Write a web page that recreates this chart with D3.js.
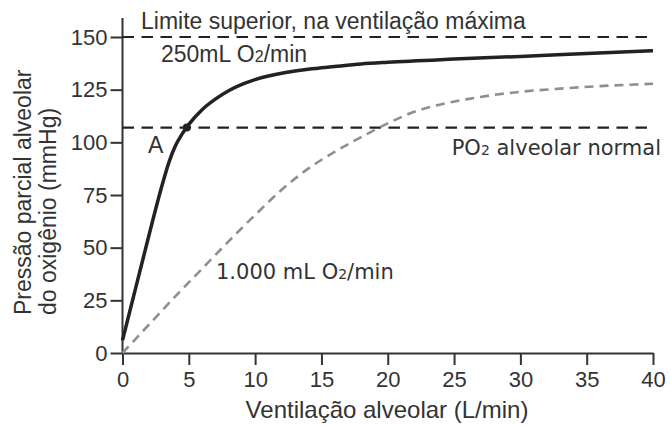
<!DOCTYPE html>
<html>
<head>
<meta charset="utf-8">
<script src="https://cdn.jsdelivr.net/npm/d3@7"></script>
<style>
  body { margin: 0; background: #fff; }
  text { font-family: "Liberation Sans", Arial, sans-serif; fill: #333; }
</style>
</head>
<body>
<div id="chart"></div>
<script>
// values
const xTicks = [0, 5, 10, 15, 20, 25, 30, 35, 40];
const yTicks = [0, 25, 50, 75, 100, 125, 150];

// 250 mL O2/min curve (solid)
const x250 = [0, 1, 2, 3, 3.5, 4, 4.5, 5, 6, 7, 8, 9, 10, 11, 12, 14, 16, 18, 20, 25, 30, 35, 40];
const y250 = [6, 31, 56, 80, 90.5, 98.5, 104, 108.5, 115.5, 120.5, 124.5, 127.5, 129.8, 131.5, 132.8, 134.7, 136, 137.2, 138, 139.5, 140.8, 142.2, 143.5];

// 1.000 mL O2/min curve (dashed grey)
const x1000 = [0, 2, 4, 6, 8, 10, 12, 14, 16, 18, 20, 22, 24, 26, 28, 30, 33, 36, 40];
const y1000 = [0, 13.5, 27, 40, 53, 65.5, 77.5, 87.5, 95.5, 102.5, 109, 114.5, 118, 120.5, 122.5, 124, 125.5, 126.7, 127.8];

const refLines = [150, 107];   // limite superior, PO2 alveolar normal
const pointA = { x: 4.85, y: 107 };

const config_size = {
  svg_width: 671,
  svg_height: 426,
  plot_margin: { left: 122.5, right: 18, top: 37, bottom: 73 },
};

const svg = d3.select('#chart').append('svg')
  .attr('width', config_size.svg_width)
  .attr('height', config_size.svg_height);

const plot_width = config_size.svg_width - config_size.plot_margin.left - config_size.plot_margin.right;
const plot_height = config_size.svg_height - config_size.plot_margin.top - config_size.plot_margin.bottom;

const plot_g = svg.append('g')
  .attr('transform', `translate(${config_size.plot_margin.left}, ${config_size.plot_margin.top})`);

const x = d3.scaleLinear().domain([0, 40]).range([0, plot_width]);
const y = d3.scaleLinear().domain([0, 150]).range([plot_height, 0]);

// axes
const xAxis = plot_g.append('g')
  .attr('transform', `translate(0,${plot_height})`)
  .call(d3.axisBottom(x).tickValues(xTicks).tickSize(12).tickPadding(6).tickSizeOuter(0));
const yAxis = plot_g.append('g')
  .call(d3.axisLeft(y).tickValues(yTicks).tickSize(12).tickPadding(3).tickSizeOuter(0));

[xAxis, yAxis].forEach(a => {
  a.select('.domain').attr('stroke', '#333').attr('stroke-width', 2);
  a.selectAll('.tick line').attr('stroke', '#333').attr('stroke-width', 2);
  a.selectAll('.tick text').style('font-size', '22px').attr('fill', '#333');
});
// the y axis line goes a bit above 150
yAxis.select('.domain').attr('d', `M0,${plot_height}V${-19}`);

// reference dashed lines
plot_g.selectAll('.ref').data(refLines).enter().append('line')
  .attr('x1', 0).attr('x2', x(40))
  .attr('y1', d => y(d)).attr('y2', d => y(d))
  .attr('stroke', '#222').attr('stroke-width', 2.2)
  .attr('stroke-dasharray', '11.5,7.5');

const line = d3.line()
  .x(d => x(d[0]))
  .y(d => y(d[1]))
  .curve(d3.curveMonotoneX);

plot_g.append('path')
  .datum(x1000.map((v, i) => [v, y1000[i]]))
  .attr('fill', 'none')
  .attr('stroke', '#8f8f8f')
  .attr('stroke-width', 2.6)
  .attr('stroke-dasharray', '9,6')
  .attr('d', line);

plot_g.append('path')
  .datum(x250.map((v, i) => [v, y250[i]]))
  .attr('fill', 'none')
  .attr('stroke', '#222')
  .attr('stroke-width', 3.5)
  .attr('d', line);

plot_g.append('circle')
  .attr('cx', x(pointA.x)).attr('cy', y(pointA.y))
  .attr('r', 4).attr('fill', '#222');

// annotations, with a small "2" for O2
function sub(t, parts, size) {
  parts.forEach(p => {
    const ts = t.append('tspan').text(p[0]);
    if (p[1]) ts.style('font-size', size);
  });
}
svg.append('text').attr('x', 141).attr('y', 29)
  .style('font-size', '23px').text('Limite superior, na ventilação máxima');

const t250 = svg.append('text').attr('x', 161).attr('y', 62).style('font-size', '23px');
sub(t250, [['250mL  O'], ['2', true], ['/min']], '16px');

svg.append('text').attr('x', 148).attr('y', 153).style('font-size', '23px').text('A');

const tPO = svg.append('text').attr('x', 661).attr('y', 155)
  .attr('text-anchor', 'end')
  .style('font-family', '"DejaVu Sans", Verdana, sans-serif').style('font-size', '21px');
sub(tPO, [['PO'], ['2', true], [' alveolar normal']], '14px');

const t1000 = svg.append('text').attr('x', 216).attr('y', 279)
  .style('font-family', '"DejaVu Sans", Verdana, sans-serif').style('font-size', '21px');
sub(t1000, [['1.000 mL O'], ['2', true], ['/min']], '14px');

// axis titles
svg.append('text').attr('x', 387).attr('y', 418)
  .attr('text-anchor', 'middle').style('font-size', '24px')
  .text('Ventilação alveolar (L/min)');

const yt = svg.append('text')
  .attr('transform', 'translate(31,315) rotate(-90)')
  .style('font-size', '23px');
yt.append('tspan').attr('x', 0).attr('y', 0).text('Pressão parcial alveolar');
yt.append('tspan').attr('x', 0).attr('y', 25).text('do oxigênio (mmHg)');
</script>
</body>
</html>
